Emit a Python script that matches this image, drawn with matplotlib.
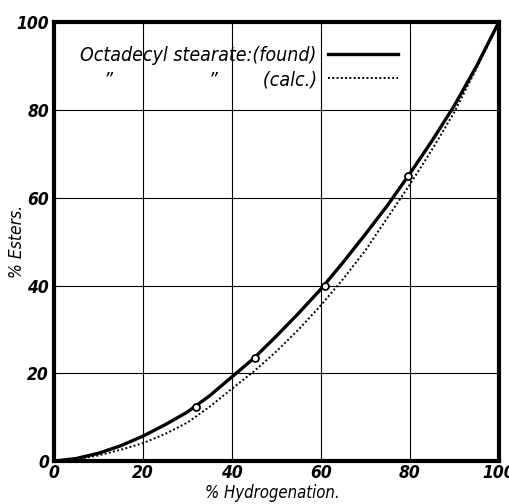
import matplotlib.pyplot as plt

# hydrogenation (%) vs esters (%)
x_curve = [0, 5, 10, 15, 20, 25, 30, 35, 40, 45, 50,
           55, 60, 65, 70, 75, 80, 85, 90, 95, 100]
found = [0, 0.6, 1.8, 3.5, 5.7, 8.3, 11.2, 14.9, 19.2, 23.5, 28.5,
         33.7, 39.2, 45.3, 51.7, 58.3, 65.5, 73, 81, 90, 100]
calc = [0, 0.4, 1.3, 2.6, 4.1, 6.2, 8.8, 12.4, 16.5, 20.5, 25,
        30, 35.5, 41.5, 48, 55.5, 63, 71, 79.5, 89.5, 100]
x_meas = [32, 45.3, 61, 79.5]
y_meas = [12.3, 23.6, 40, 65]
ticks = [0, 20, 40, 60, 80, 100]

plt.rcParams['font.family'] = ['DejaVu Sans']
plt.rcParams['font.stretch'] = 'condensed'
plt.rcParams['font.style'] = 'italic'

fig = plt.figure(figsize=(5.09, 5.04), dpi=100)
ax = fig.add_axes([0.106, 0.085, 0.874, 0.871])

ax.plot(x_curve, found, color='black', lw=2.4, label='Octadecyl stearate:(found)')
ax.plot(x_curve, calc, color='black', lw=1.4, ls=(0, (1, 1.2)),
        label='\u201d                 \u201d        (calc.)')
ax.plot(x_meas, y_meas, 'o', ms=5, mfc='white', mec='black', mew=1.3, zorder=5)

ax.set_xlim(0, 100)
ax.set_ylim(0, 100)
ax.set_xticks(ticks)
ax.set_yticks(ticks)
ax.tick_params(length=0, labelsize=12.5)
ax.tick_params(axis='x', pad=2)
for lab in ax.get_xticklabels() + ax.get_yticklabels():
    lab.set_fontweight('bold')
ax.grid(True, color='black', lw=0.8)
for s in ax.spines.values():
    s.set_linewidth(3)

ax.set_xlabel('% Hydrogenation.', fontsize=12, va='top')
ax.xaxis.set_label_coords(0.49, -0.052)
ax.set_ylabel('% Esters.', fontsize=12.5)
ax.yaxis.set_label_coords(-0.062, 0.5)

leg = ax.legend(loc='upper left', bbox_to_anchor=(0.02, 0.985), frameon=False,
                markerfirst=False, fontsize=14, handlelength=3.6,
                labelspacing=0.25, handletextpad=0.6)

fig.savefig('out.png', dpi=100)
